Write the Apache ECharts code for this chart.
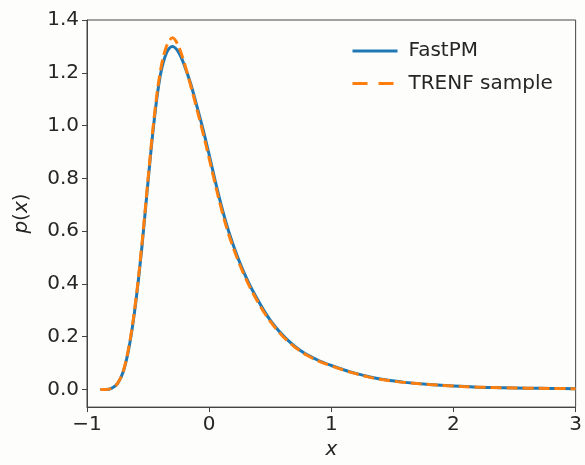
<!DOCTYPE html>
<html>
<head>
<meta charset="utf-8">
<script src="https://cdn.jsdelivr.net/npm/echarts@6/dist/echarts.min.js"></script>
<style>
html,body{margin:0;padding:0;background:#fdfefb;}
#c{width:585px;height:465px;}
</style>
</head>
<body>
<div id="c"></div>
<script>
const xs      = [-0.89,-0.85,-0.80,-0.75,-0.70,-0.65,-0.60,-0.55,-0.50,-0.45,-0.40,-0.35,-0.30,-0.25,-0.20,-0.15,-0.10,-0.05,0.00,0.05,0.10,0.15,0.20,0.25,0.30,0.35,0.40,0.45,0.50,0.55,0.60,0.65,0.70,0.75,0.80,0.90,1.00,1.10,1.20,1.30,1.40,1.50,1.60,1.80,2.00,2.20,2.40,2.60,2.80,3.00];
const fastpm  = [0.000,0.000,0.004,0.022,0.072,0.174,0.333,0.543,0.790,1.020,1.190,1.275,1.300,1.278,1.225,1.157,1.073,0.986,0.890,0.790,0.697,0.614,0.544,0.482,0.428,0.380,0.338,0.298,0.263,0.233,0.207,0.184,0.164,0.147,0.132,0.109,0.091,0.075,0.061,0.049,0.040,0.033,0.027,0.019,0.013,0.009,0.007,0.005,0.004,0.003];
const trenf   = [0.000,0.000,0.004,0.023,0.075,0.180,0.340,0.553,0.800,1.032,1.205,1.300,1.333,1.300,1.232,1.150,1.062,0.972,0.876,0.778,0.685,0.603,0.534,0.474,0.420,0.373,0.331,0.292,0.258,0.229,0.203,0.181,0.161,0.145,0.130,0.107,0.090,0.074,0.060,0.048,0.039,0.032,0.027,0.019,0.013,0.009,0.007,0.005,0.004,0.003];
const yTicks  = [0,0.2,0.4,0.6,0.8,1.0,1.2,1.4];
const names   = ['FastPM','TRENF sample'];

const FONT = 'DejaVu Sans';
const TXT = '#262626';
const AX = '#444444';

const chart = echarts.init(document.getElementById('c'), null, {renderer:'canvas'});
chart.setOption({
  backgroundColor:'#fdfefb',
  animation:false,
  grid:{left:87,right:7,top:20,bottom:57,show:true,borderColor:AX,borderWidth:1,backgroundColor:'transparent'},
  legend:{
    orient:'vertical', left:346, top:36,
    itemWidth:45, itemHeight:20, itemGap:12.5,
    itemStyle:{opacity:0},
    data:[
      {name:names[0], lineStyle:{width:3,color:'#1f77b4'}},
      {name:names[1], lineStyle:{width:3,color:'#ff7f0e',type:[15,11]}}
    ],
    textStyle:{fontFamily:FONT,fontSize:20,color:TXT,lineHeight:20,padding:[0,0,0,6]}
  },
  xAxis:{
    type:'value', min:-1, max:3, interval:1,
    axisLine:{show:true,onZero:false,lineStyle:{color:AX,width:1}},
    axisTick:{show:true,length:5,lineStyle:{color:AX}},
    splitLine:{show:false},
    axisLabel:{fontFamily:FONT,fontSize:20,color:TXT,margin:8,
      formatter:v=> v<0 ? '\u2212'+Math.abs(v) : String(v)},
    name:'x', nameLocation:'middle', nameGap:32,
    nameTextStyle:{fontFamily:FONT,fontSize:20,color:TXT,fontStyle:'italic'}
  },
  yAxis:{
    type:'value', min:-0.0667, max:1.4007,
    axisLine:{show:true,onZero:false,lineStyle:{color:AX,width:1}},
    axisTick:{show:true,length:5,lineStyle:{color:AX},customValues:yTicks},
    splitLine:{show:false},
    axisLabel:{fontFamily:FONT,fontSize:20,color:TXT,margin:8,customValues:yTicks,
      formatter:v=>v.toFixed(1)},
    name:'{i|p}({i|x})', nameLocation:'middle', nameGap:55,
    nameTextStyle:{fontFamily:FONT,fontSize:20,color:TXT,
      rich:{i:{fontFamily:FONT,fontSize:20,color:TXT,fontStyle:'italic'}}}
  },
  series:[
    {name:names[0],type:'line',data:xs.map((x,i)=>[x,fastpm[i]]),
     showSymbol:false,symbol:'none',smooth:0.35,
     lineStyle:{color:'#1f77b4',width:3},itemStyle:{color:'#1f77b4'}},
    {name:names[1],type:'line',data:xs.map((x,i)=>[x,trenf[i]]),
     showSymbol:false,symbol:'none',smooth:0.35,
     lineStyle:{color:'#ff7f0e',width:3,type:[11,5]},itemStyle:{color:'#ff7f0e'}}
  ]
});
</script>
</body>
</html>
